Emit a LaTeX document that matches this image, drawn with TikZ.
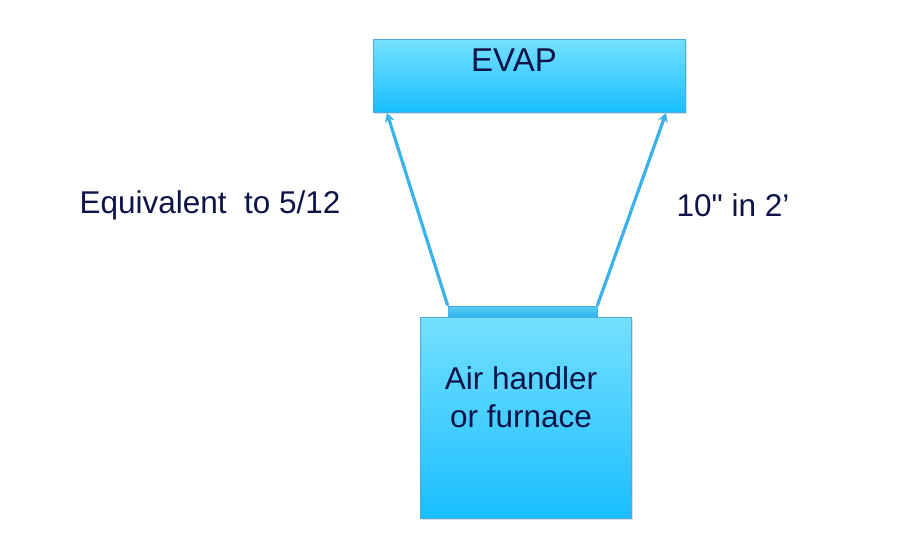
\documentclass[tikz,border=0pt]{standalone}
\usepackage{fontspec}
\setmainfont{Liberation Sans}
\newfontfamily\rawfont{Liberation Sans}
\usetikzlibrary{arrows.meta,shadows}
\definecolor{navy}{RGB}{14,20,72}
\definecolor{boxtop}{RGB}{116,224,255}
\definecolor{boxbot}{RGB}{26,190,255}
\definecolor{boxline}{RGB}{70,175,225}
\definecolor{arrowc}{RGB}{58,178,236}
\definecolor{platetop}{RGB}{90,205,248}
\definecolor{platebot}{RGB}{45,180,238}
\tikzset{
  bluebox/.style={draw=boxline, line width=0.8pt, top color=boxtop, bottom color=boxbot,
    drop shadow={shadow xshift=1.5pt, shadow yshift=-1.5pt, opacity=0.25}},
  lbl/.style={text=navy, font=\fontsize{31.5}{38}\selectfont, inner sep=0pt},
  conn/.style={arrowc, line width=3.2pt, -{Stealth[length=9pt,width=10pt]}}
}
\begin{document}
\begin{tikzpicture}[x=1pt,y=-1pt]
\useasboundingbox[fill=white] (0,0) rectangle (900,550);
\node[bluebox, minimum width=312pt, minimum height=73pt, inner sep=0pt] (evap) at (529,75.5) {};
\node[lbl, font=\fontsize{33}{38}\selectfont] (evaptxt) at (514,60) {EVAP};
\node[bluebox, minimum width=211pt, minimum height=201pt, inner sep=0pt] (ah) at (525.5,417.5) {};
\node[lbl, align=center] (ahtxt) at (521,397) {Air handler\\or furnace};
\node[draw=boxline, top color=platetop, bottom color=platebot, line width=0.6pt, minimum width=149pt, minimum height=11pt, inner sep=0pt] (plate) at (522.5,311.5) {};
\coordinate (tl) at (387,113);
\coordinate (tr) at (666,113);
\draw[conn] (plate.north west) -- (tl);
\draw[conn] (plate.north east) -- (tr);
\node[lbl] (eq) at (210,205) {Equivalent\ \ to 5/12};
\node[lbl, font=\rawfont\fontsize{31.5}{38}\selectfont] (ten) at (733,205) {10" in 2’};
\end{tikzpicture}
\end{document}
